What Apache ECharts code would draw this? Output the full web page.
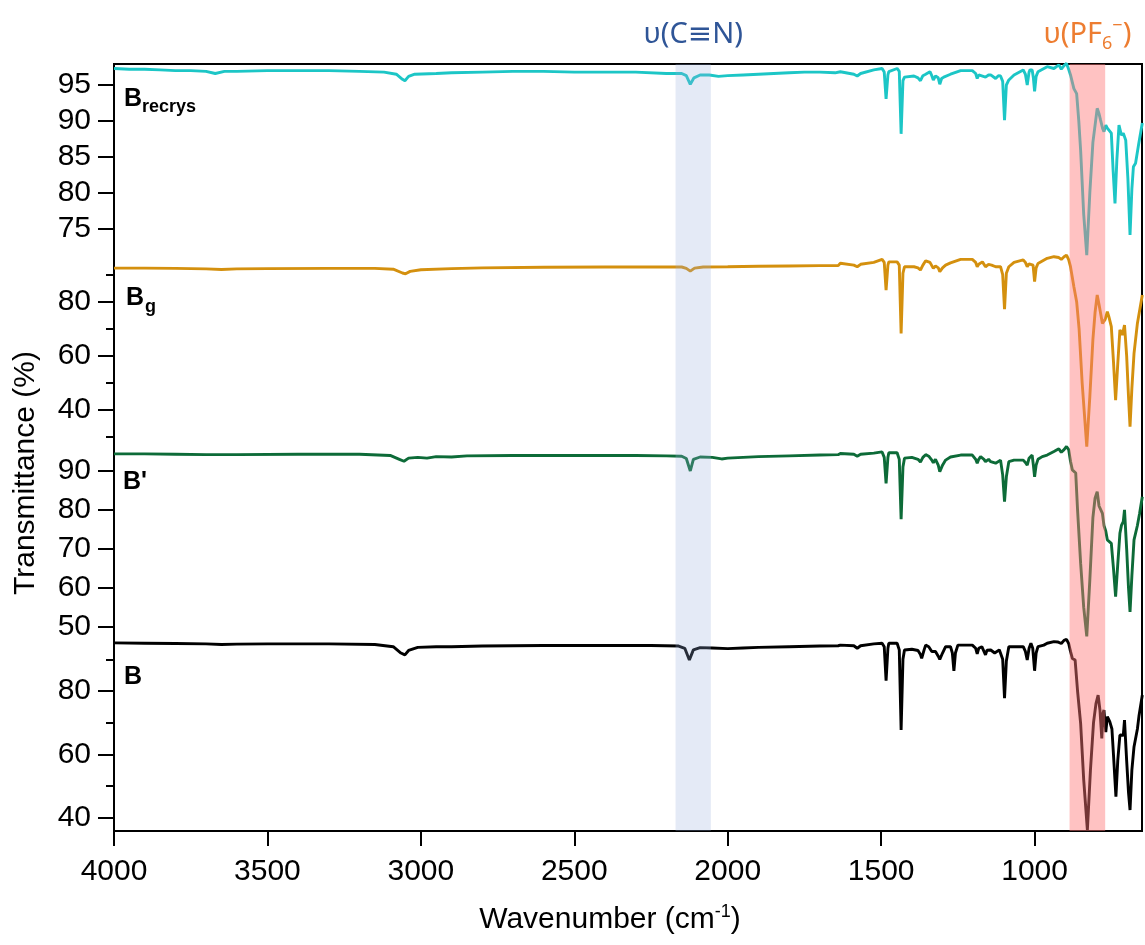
<!DOCTYPE html>
<html><head><meta charset="utf-8">
<script src="https://cdn.jsdelivr.net/npm/echarts@6/dist/echarts.min.js"></script>
<style>html,body{margin:0;padding:0;background:#fff}#c{width:1145px;height:945px}</style>
</head><body><div id="c"></div>
<script>
// ---------- data ----------
const xTicks = [4000, 3500, 3000, 2500, 2000, 1500, 1000];
const xRange = [650, 4000];
const bandCN = [2170, 2055];
const bandPF6 = [886, 770];
const ticksRecrys = [75, 80, 85, 90, 95];
const ticksG = [40, 60, 80];
const minorG = [30, 50, 70, 90];
const ticksP = [50, 60, 70, 80, 90];
const ticksB = [40, 60, 80];
const minorB = [50, 70, 90];

const specRecrys = [[4000,97.3],[3950,97.2],[3900,97.2],[3850,97.1],[3800,97.0],[3750,97.0],[3700,96.9],[3670,96.6],[3640,96.9],[3600,96.9],[3500,97.0],[3400,97.0],[3300,97.0],[3200,96.9],[3120,96.8],[3080,96.5],[3060,95.8],[3052,95.6],[3040,96.2],[3020,96.5],[2950,96.6],[2900,96.7],[2800,96.8],[2700,96.9],[2600,96.9],[2500,96.8],[2400,96.8],[2300,96.8],[2200,96.6],[2150,96.6],[2135,96.3],[2122,95.1],[2110,96.0],[2090,96.4],[2060,96.4],[2030,96.2],[2000,96.3],[1950,96.4],[1900,96.5],[1850,96.6],[1800,96.7],[1750,96.8],[1700,96.8],[1650,96.7],
[1633,96.85],[1589,96.5],[1578,96.25],[1567,96.6],[1524,97.1],[1497,97.3],[1490,96.8],[1484,93.05],[1478,96.4],[1475,96.85],[1448,97.3],[1441,96.9],[1435,88.2],[1429,95.6],[1424,96.1],[1393,96.25],[1380,96.0],[1372,95.6],[1364,96.3],[1355,96.5],[1341,96.85],[1335,96.3],[1330,95.7],[1323,96.25],[1314,96.0],[1309,95.1],[1303,95.9],[1296,96.1],[1274,96.5],[1241,97.0],[1203,97.0],[1192,96.6],[1187,95.9],[1182,96.4],[1176,96.6],[1160,96.1],[1150,96.4],[1143,96.4],[1127,95.9],[1118,96.3],[1111,96.25],[1104,95.5],[1098,90.1],[1092,95.0],[1084,95.7],[1067,96.4],[1037,97.1],[1030,96.5],[1024,95.0],[1018,96.8],[1015,97.1],[1008,97.1],[1004,96.0],[1000,94.1],[995,96.2],[989,96.85],[959,97.55],[937,97.3],[921,97.8],[913,97.2],[904,97.7],[896,98.0],[889,97.2],[883,96.4],[872,94.5],[863,93.8],[856,90.0],[850,85.9],[840,77.0],[830,71.3],[820,80.0],[810,87.0],[796,91.75],[790,91.0],[785,90.1],[778,88.9],[774,88.5],[768,89.4],[763,89.0],[758,89.0],[750,88.3],[744,83.0],[738,78.5],[732,84.5],[725,89.4],[717,88.0],[711,88.3],[703,87.3],[696,82.0],[689,74.1],[683,80.5],[678,83.6],[671,84.1],[660,87.0],[649,89.7]];

const specG = [[4000,92.4],[3900,92.4],[3800,92.3],[3700,92.1],[3650,91.9],[3600,92.1],[3500,92.2],[3300,92.3],[3150,92.3],[3090,92.0],[3060,90.6],[3050,90.3],[3035,91.2],[3000,91.8],[2900,92.2],[2800,92.5],[2600,92.7],[2400,92.8],[2250,92.8],[2150,92.8],[2135,92.3],[2122,91.3],[2108,92.4],[2080,92.8],[2000,92.9],[1900,93.1],[1800,93.2],[1700,93.3],[1640,93.3],
[1633,94.2],[1589,93.5],[1578,92.9],[1567,93.8],[1524,94.5],[1497,95.6],[1490,94.5],[1484,84.3],[1478,93.5],[1475,94.7],[1448,94.7],[1441,93.5],[1435,68.3],[1429,90.5],[1424,92.9],[1393,92.9],[1380,92.5],[1372,91.7],[1364,93.5],[1355,95.1],[1341,94.5],[1330,92.3],[1323,93.2],[1314,92.5],[1309,91.1],[1300,92.5],[1290,93.5],[1274,94.3],[1241,95.6],[1203,95.6],[1192,94.5],[1187,92.9],[1182,93.8],[1170,94.7],[1160,92.9],[1150,93.8],[1140,93.5],[1127,92.9],[1111,92.9],[1104,90.0],[1098,77.2],[1092,90.5],[1084,92.9],[1067,94.5],[1037,95.4],[1030,94.5],[1024,92.9],[1018,94.0],[1012,94.7],[1005,93.5],[1000,87.4],[995,92.5],[989,94.1],[959,96.0],[937,96.6],[921,96.3],[913,95.6],[904,96.6],[896,97.2],[889,95.5],[883,92.9],[872,85.5],[863,80.0],[855,70.0],[845,50.0],[830,26.5],[820,45.0],[810,66.0],[803,76.0],[796,82.5],[790,79.0],[779,72.0],[770,73.5],[763,76.3],[758,74.5],[750,70.8],[743,58.0],[736,43.7],[729,57.0],[722,69.6],[717,68.5],[714,67.7],[707,71.4],[700,60.0],[694,45.0],[689,33.9],[683,48.0],[676,60.9],[665,72.0],[649,82.5]];

const specP = [[4000,94.4],[3900,94.4],[3800,94.3],[3700,94.2],[3600,94.2],[3400,94.3],[3200,94.3],[3100,94.0],[3070,93.0],[3055,92.5],[3040,93.3],[3010,93.5],[2980,93.3],[2950,93.7],[2900,93.6],[2850,93.9],[2700,94.0],[2500,94.0],[2300,94.0],[2200,93.9],[2150,93.8],[2135,93.2],[2122,90.0],[2112,93.0],[2090,93.6],[2050,93.5],[2020,93.1],[2000,93.3],[1950,93.5],[1900,93.7],[1800,93.9],[1700,94.1],[1640,94.2],
[1633,94.5],[1589,94.3],[1578,93.8],[1567,94.3],[1524,94.6],[1497,94.9],[1490,93.5],[1484,86.8],[1478,93.5],[1475,94.7],[1448,94.7],[1441,93.0],[1435,77.6],[1429,91.0],[1424,93.3],[1400,93.5],[1380,93.0],[1372,92.3],[1364,93.5],[1355,94.2],[1345,93.8],[1335,92.8],[1330,92.1],[1323,93.0],[1314,91.5],[1309,89.8],[1300,91.5],[1290,92.8],[1274,93.6],[1241,94.1],[1203,94.1],[1192,93.0],[1187,92.0],[1182,93.0],[1176,93.7],[1165,93.0],[1160,92.4],[1150,93.0],[1143,92.4],[1127,92.0],[1111,92.8],[1104,89.0],[1098,82.1],[1092,88.5],[1084,92.4],[1067,92.8],[1037,92.8],[1030,92.2],[1024,91.5],[1018,93.3],[1008,94.1],[1004,91.5],[1000,88.5],[995,91.5],[989,93.0],[975,93.7],[959,94.1],[937,95.0],[921,95.7],[913,94.8],[904,95.5],[896,96.3],[889,95.5],[883,92.5],[877,90.3],[872,90.3],[866,89.5],[860,80.0],[850,66.3],[840,55.0],[830,47.5],[820,62.0],[810,78.0],[803,83.0],[796,84.7],[790,81.0],[779,79.1],[774,76.0],[768,74.5],[763,72.3],[758,72.8],[750,71.4],[743,65.0],[736,57.7],[729,66.0],[722,74.0],[717,76.0],[711,77.0],[707,80.0],[700,70.0],[694,60.0],[689,53.8],[683,63.0],[676,72.3],[665,76.0],[658,79.0],[649,83.4]];

const specB = [[4000,95.2],[3900,95.1],[3800,95.0],[3700,94.9],[3650,94.7],[3600,94.8],[3500,94.9],[3300,94.9],[3150,94.7],[3090,94.0],[3065,92.0],[3052,91.4],[3040,92.8],[3010,93.8],[2950,94.0],[2900,94.0],[2800,94.2],[2600,94.4],[2400,94.4],[2250,94.4],[2160,94.2],[2140,93.5],[2125,89.8],[2112,93.0],[2090,93.7],[2050,93.6],[2000,93.4],[1950,93.6],[1900,93.8],[1800,94.0],[1700,94.2],[1640,94.3],
[1633,94.5],[1589,94.3],[1578,93.5],[1567,94.3],[1524,94.9],[1497,95.1],[1490,94.0],[1484,83.3],[1478,93.5],[1475,95.1],[1448,95.1],[1441,93.0],[1435,67.7],[1429,90.0],[1424,92.95],[1400,93.2],[1380,92.8],[1372,91.5],[1368,90.3],[1360,93.0],[1355,94.5],[1345,94.0],[1335,92.5],[1330,91.9],[1323,92.5],[1314,91.0],[1309,90.0],[1300,92.0],[1290,94.0],[1274,94.0],[1268,92.0],[1263,86.4],[1258,92.0],[1250,94.5],[1220,94.5],[1203,94.5],[1192,93.5],[1187,91.7],[1182,93.5],[1172,94.0],[1165,92.5],[1160,91.4],[1155,92.9],[1143,92.95],[1130,92.0],[1127,91.9],[1115,93.0],[1104,90.0],[1098,77.7],[1092,89.5],[1084,94.0],[1060,94.0],[1037,94.0],[1030,92.5],[1024,89.8],[1018,93.5],[1012,95.1],[1006,93.5],[1000,86.4],[995,92.0],[989,94.0],[970,94.5],[959,95.1],[937,95.6],[925,95.5],[921,96.1],[913,95.0],[904,96.0],[896,96.3],[889,95.0],[883,92.5],[877,90.3],[868,89.8],[860,80.0],[850,69.8],[840,52.0],[828,36.1],[818,55.0],[808,70.0],[800,76.0],[793,78.7],[787,74.0],[781,65.0],[777,73.0],[774,74.0],[768,67.0],[763,71.9],[755,70.3],[748,68.0],[743,60.0],[735,46.6],[729,58.0],[722,66.1],[717,66.6],[711,66.0],[707,70.8],[700,58.0],[694,48.0],[689,42.4],[683,55.0],[676,62.4],[665,68.0],[660,72.0],[649,78.7]];

// ---------- layout / style ----------
const FONT = 'Liberation Sans, Arial, sans-serif';
const L = 114, W = 1028, TOP = 64, BOT = 831;
const panels = [
  {top: 64,     height: 200.5,  min: 70,    max: 97.925, major: ticksRecrys, minor: null,   data: specRecrys, color: '#1cc6c6'},
  {top: 252.92, height: 197.83, min: 25,    max: 98,     major: ticksG,      minor: minorG, data: specG,      color: '#d4900e'},
  {top: 443.77, height: 202.28, min: 45,    max: 97,     major: ticksP,      minor: null,   data: specP,      color: '#0d6b38'},
  {top: 637.2,  height: 193.8,  min: 35.77, max: 97,     major: ticksB,      minor: minorB, data: specB,      color: '#000000'}
];

const grid = [], xAxis = [], yAxis = [], series = [];
panels.forEach((p, i) => {
  grid.push({left: L, width: W, top: p.top, height: p.height, show: false, outerBoundsMode: 'none', containLabel: false});
  const bottom = i === 3;
  xAxis.push({
    gridIndex: i, type: 'value', min: xRange[0], max: xRange[1], inverse: true,
    show: bottom,
    axisLine: {show: false},
    splitLine: {show: false},
    axisTick: {show: bottom, length: 15, lineStyle: {color: '#000', width: 2}, customValues: xTicks},
    axisLabel: {show: bottom, customValues: xTicks, formatter: v => String(v), fontSize: 30, fontFamily: FONT, color: '#000', margin: 26}
  });
  yAxis.push({
    gridIndex: i, type: 'value', min: p.min, max: p.max, position: 'left',
    axisLine: {show: false}, splitLine: {show: false},
    axisTick: {show: true, length: 16, lineStyle: {color: '#000', width: 2}, customValues: p.major},
    axisLabel: {show: true, customValues: p.major, formatter: v => String(v), fontSize: 30, fontFamily: FONT, color: '#000', margin: 23}
  });
  series.push({
    type: 'line', xAxisIndex: i, yAxisIndex: i, data: p.data, showSymbol: false, symbol: 'none',
    clip: false, z: 2, lineStyle: {color: p.color, width: 2.9}, silent: true, animation: false
  });
});
// frame grid
grid.push({left: L, width: W, top: TOP, height: BOT - TOP, show: true, borderColor: '#000', borderWidth: 2, backgroundColor: 'transparent', outerBoundsMode: 'none'});
xAxis.push({gridIndex: 4, type: 'value', min: xRange[0], max: xRange[1], inverse: true, show: false});
yAxis.push({gridIndex: 4, type: 'value', min: 0, max: 1, show: false});
// minor tick axes
panels.forEach((p, i) => {
  if (!p.minor) return;
  yAxis.push({
    gridIndex: i, type: 'value', min: p.min, max: p.max, position: 'left', offset: 0,
    axisLine: {show: false}, splitLine: {show: false},
    axisTick: {show: true, length: 8, lineStyle: {color: '#000', width: 2}, customValues: p.minor},
    axisLabel: {show: false}
  });
});

const bandFill = ['rgba(150,175,222,0.26)', 'rgba(255,120,120,0.45)'];
const bandText = ['{a|υ(C≡N)}', '{a|υ(PF}{sub|6}{sup|−}{a|)}'];
const bandColor = ['#2f5597', '#ed7d31'];
series.push({
  type: 'custom', xAxisIndex: 4, yAxisIndex: 4, z: 10, clip: false, silent: true,
  data: [[bandCN[0], bandCN[1], 0], [bandPF6[0], bandPF6[1], 1]],
  renderItem: function (params, api) {
    const a = api.coord([api.value(0), 1]);
    const b = api.coord([api.value(1), 0]);
    const k = api.value(2);
    const x = Math.min(a[0], b[0]), w = Math.abs(b[0] - a[0]);
    const c = bandColor[k];
    return {type: 'group', children: [
      {type: 'rect', shape: {x: x, y: a[1], width: w, height: b[1] - a[1]}, style: {fill: bandFill[k]}},
      {type: 'text', style: {
        text: bandText[k], x: x + w / 2, y: a[1] - 29, align: 'center', verticalAlign: 'middle',
        rich: {
          a: {fontSize: 29, fontFamily: 'Noto Sans, DejaVu Sans', fill: c, color: c, lineHeight: 36},
          sub: {fontSize: 18, fontFamily: 'Noto Sans, DejaVu Sans', fill: c, color: c, verticalAlign: 'bottom', lineHeight: 36, padding: [12, 0, 0, 0]},
          sup: {fontSize: 18, fontFamily: 'Noto Sans, DejaVu Sans', fill: c, color: c, verticalAlign: 'top', lineHeight: 36}
        }
      }}
    ]};
  }
});

const graphic = [
  {type: 'text', x: 26, y: 473, rotation: Math.PI / 2, style: {text: 'Transmittance (%)', font: '30px ' + FONT, fill: '#000', textAlign: 'center', textVerticalAlign: 'middle'}},
  {type: 'text', x: 610, y: 920, style: {text: '{a|Wavenumber (cm}{s|-1}{a|)}', textAlign: 'center', textVerticalAlign: 'middle',
    rich: {a: {fontSize: 30, fontFamily: FONT, fill: '#000', color: '#000', lineHeight: 34}, s: {fontSize: 18, fontFamily: FONT, fill: '#000', color: '#000', verticalAlign: 'top', lineHeight: 34}}}},
  {type: 'text', x: 124, y: 99, style: {text: 'B', font: 'bold 25px ' + FONT, fill: '#000', textAlign: 'left', textVerticalAlign: 'middle'}},
  {type: 'text', x: 142, y: 107, style: {text: 'recrys', font: 'bold 18px ' + FONT, fill: '#000', textAlign: 'left', textVerticalAlign: 'middle'}},
  {type: 'text', x: 126, y: 298.5, style: {text: 'B', font: 'bold 25px ' + FONT, fill: '#000', textAlign: 'left', textVerticalAlign: 'middle'}},
  {type: 'text', x: 145, y: 307, style: {text: 'g', font: 'bold 18px ' + FONT, fill: '#000', textAlign: 'left', textVerticalAlign: 'middle'}},
  {type: 'text', x: 123, y: 482.5, style: {text: "B'", font: 'bold 25px ' + FONT, fill: '#000', textAlign: 'left', textVerticalAlign: 'middle'}},
  {type: 'text', x: 124, y: 677.5, style: {text: 'B', font: 'bold 25px ' + FONT, fill: '#000', textAlign: 'left', textVerticalAlign: 'middle'}}
];

const chart = echarts.init(document.getElementById('c'), null, {renderer: 'canvas'});
chart.setOption({animation: false, backgroundColor: '#fff', grid, xAxis, yAxis, series, graphic});
</script></body></html>
